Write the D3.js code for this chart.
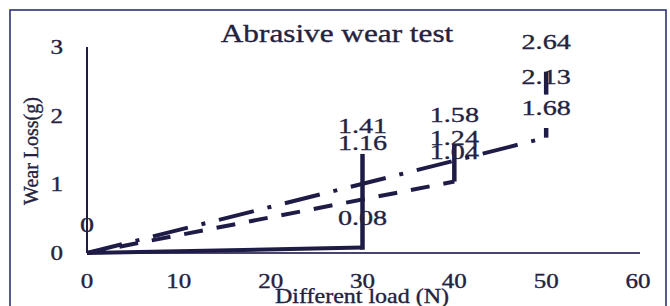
<!DOCTYPE html>
<html>
<head>
<meta charset="utf-8">
<script src="https://cdn.jsdelivr.net/npm/d3@7"></script>
<style>
  body { margin: 0; background: #fff; }
  svg { display: block; }
  text { font-family: "Liberation Serif", "Times New Roman", serif; fill: #24223f; stroke: #24223f; stroke-width: 0.35px; }
</style>
</head>
<body>
<script>
// x ticks (load, N) and y ticks (wear loss, g)
var xTicks = [0, 10, 20, 30, 40, 50, 60];
var yTicks = [0, 1, 2, 3];

// three series: line from origin to (load, low), then a bar low -> high
var seriesLoad = [30, 40, 50];
var lowLoss = [0.08, 1.04, 1.68];
var midLoss = [1.16, 1.24, 2.13];
var highLoss = [1.41, 1.58, 2.64];
var originLoss = 0;
var dashes = [null, "19,14", "36,14,4,14"];

var width = 670, height = 306;
var ink = "#1e1c46";
var sx = 1.28; // the picture is stretched sideways

var svg = d3.select("body").append("svg")
    .attr("width", width)
    .attr("height", height);

var x = d3.scaleLinear().domain([0, 60]).range([87, 638]);
var y = d3.scaleLinear().domain([0, 3]).range([253, 47]);

// frame
svg.append("rect")
    .attr("x", 10).attr("y", 10)
    .attr("width", 656).attr("height", 320)
    .attr("fill", "none")
    .attr("stroke", "#2c3077")
    .attr("stroke-width", 1.6);

function wideText(parent, px, py, txt, size, anchor, scale) {
    var g = parent.append("g")
        .attr("transform", "translate(" + px + "," + py + ") scale(" + scale + ",1)");
    g.append("text")
        .attr("text-anchor", anchor)
        .style("font-size", size + "px")
        .text(txt);
    return g;
}

// title
wideText(svg, 337, 42, "Abrasive wear test", 25, "middle", 1.25);

// axes lines
svg.append("line")
    .attr("x1", x(0)).attr("x2", x(60) + 2)
    .attr("y1", y(0)).attr("y2", y(0))
    .attr("stroke", "#47466a").attr("stroke-width", 2);
svg.append("line")
    .attr("x1", x(0)).attr("x2", x(0))
    .attr("y1", y(3)).attr("y2", y(0))
    .attr("stroke", ink).attr("stroke-width", 2);

// tick labels
xTicks.forEach(function(t) {
    wideText(svg, x(t), 288, t, 20, "middle", 1.25);
});
yTicks.forEach(function(t) {
    wideText(svg, 63, y(t) + 7, t, 20, "end", 1.25);
});

// axis titles
wideText(svg, 362, 303, "Different load (N)", 20, "middle", 1.2);
svg.append("text")
    .attr("transform", "translate(38,151) rotate(-90)")
    .attr("text-anchor", "middle")
    .style("font-size", "20px")
    .text("Wear Loss(g)");

// series lines
var line = d3.line().x(function(d) { return x(d[0]); }).y(function(d) { return y(d[1]); });
seriesLoad.forEach(function(load, i) {
    svg.append("path")
        .attr("d", line([[0, originLoss], [load, lowLoss[i]]]))
        .attr("fill", "none")
        .attr("stroke", ink)
        .attr("stroke-width", 4)
        .attr("stroke-dasharray", dashes[i]);
});

// vertical bars
seriesLoad.forEach(function(load, i) {
    svg.append("line")
        .attr("x1", x(load)).attr("x2", x(load))
        .attr("y1", y(lowLoss[i])).attr("y2", y(highLoss[i]))
        .attr("stroke", ink)
        .attr("stroke-width", 4.5)
        .attr("stroke-linecap", i == 0 ? "square" : "butt");
});

// data labels, drawn 23px above each value
var labelOffset = 23;
wideText(svg, x(0), y(originLoss) - labelOffset + 2, originLoss, 22, "middle", sx);
seriesLoad.forEach(function(load, i) {
    [lowLoss[i], midLoss[i], highLoss[i]].forEach(function(v) {
        var g = wideText(svg, x(load), y(v) - labelOffset, v.toFixed(2), 22, "middle", sx);
        // the 1.68 label box sits over the bar in the original
        if (i == 2 && v == lowLoss[i]) {
            var b = g.select("text").node().getBBox();
            g.insert("rect", "text")
                .attr("x", b.x - 2).attr("y", b.y)
                .attr("width", b.width + 4).attr("height", b.height + 9)
                .attr("fill", "#fff");
        }
    });
});
</script>
</body>
</html>
